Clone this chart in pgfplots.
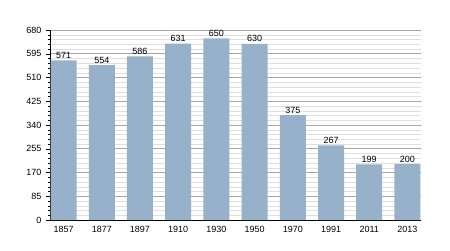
\documentclass[border=0pt]{standalone}
\usepackage{pgfplots}
\pgfplotsset{compat=1.18}
\usepackage{fontspec}
\setmainfont{Liberation Sans}
\definecolor{barc}{HTML}{97B1CB}
\begin{document}
\begin{tikzpicture}
\path (0pt,0pt) rectangle (450pt,250pt);
\begin{axis}[
  at={(50pt,30pt)}, anchor=south west,
  scale only axis, width=371pt, height=190pt,
  xmin=-0.355, xmax=9.355, ymin=0, ymax=680,
  xtick={0,...,9},
  xticklabels={1857,1877,1897,1910,1930,1950,1970,1991,2011,2013},
  ytick={0,85,...,680},
  minor y tick num=4,
  ymajorgrids, yminorgrids,
  major grid style={gray!70, line width=0.6pt},
  minor grid style={gray!25, line width=0.5pt},
  axis x line=bottom, axis y line=left,
  axis line style={black, line width=0.8pt, -},
  xtick style={draw=none},
  ytick style={black, line width=0.5pt},
  tick align=outside,
  major tick length=4pt, minor tick length=2.5pt,
  tick label style={font=\fontsize{9}{10}\selectfont},
  /pgf/number format/assume math mode=true,
  yticklabel style={xshift=-1pt},
  xticklabel style={yshift=1pt},
  clip=false,
]
\addplot[ybar, bar width=0.68, fill=barc, draw=none,
  nodes near coords,
  every node near coord/.append style={font=\fontsize{9}{10}\selectfont, yshift=-1.5pt}]
  coordinates {(0,571)(1,554)(2,586)(3,631)(4,650)(5,630)(6,375)(7,267)(8,199)(9,200)};
\end{axis}
\end{tikzpicture}
\end{document}
